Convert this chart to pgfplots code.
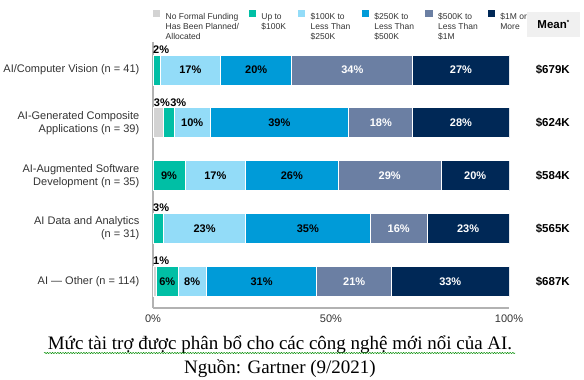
\documentclass[border=0pt]{standalone}
\usepackage{pgfplots}
\usepackage{pgfplotstable}
\pgfplotsset{compat=1.18}
\usepackage{fontspec}
\setmainfont{Liberation Sans}
\newfontfamily\capfont{Liberation Serif}
\usetikzlibrary{decorations.pathmorphing}

\definecolor{cGray}{HTML}{D3D3D3}
\definecolor{cTeal}{HTML}{00BFA5}
\definecolor{cLight}{HTML}{93DCF8}
\definecolor{cBlue}{HTML}{009BD8}
\definecolor{cSlate}{HTML}{6B7FA3}
\definecolor{cNavy}{HTML}{002856}
\definecolor{cText}{HTML}{333333}

\pgfplotsset{/pgf/number format/assume math mode=true}

\pgfplotstableread{
row gray teal light blue slate navy
0 0 2 17 20 34 27
1 3 3 10 39 18 28
2 0 9 17 26 29 20
3 0 3 23 35 16 23
4 1 6 8 31 21 33
}\bardata

% centres of the labelled segments (dark text)
\pgfplotstableread{
x y v
10.5 0 17
29 0 20
11 1 10
35.5 1 39
4.5 2 9
17.5 2 17
39 2 26
14.5 3 23
43.5 3 35
4 4 6
11 4 8
30.5 4 31
}\darklabels

% centres of the labelled segments (white text)
\pgfplotstableread{
x y v
56 0 34
86.5 0 27
64 1 18
86.5 1 28
66.5 2 29
90.5 2 20
69 3 16
88.5 3 23
56.5 4 21
83.5 4 33
}\whitelabels

% small segments, labelled above the bar
\pgfplotstableread{
x y v
2.3 -0.39 2
2.5 0.61 3
7.1 0.61 3
2.3 2.61 3
2.3 3.61 1
}\abovelabels

% mean funding
\pgfplotstableread{
x y v
112.3 0 679
112.3 1 624
112.3 2 584
112.3 3 565
112.3 4 687
}\means

\begin{document}
\begin{tikzpicture}[x=1pt,y=1pt]
\useasboundingbox (0,0) rectangle (584,380);
\pgfplotsset{
  common/.style={at={(153pt,72.3pt)}, anchor=south west, scale only axis,
    width=356pt, height=265.7pt, xmin=0, xmax=100, ymin=-0.53, ymax=4.495,
    y dir=reverse},
  sq/.style={legend image code/.code={\fill[##1,draw=none] (0pt,-0.3pt) rectangle (7.4pt,7pt);}},
  seg/.style={fill=#1, draw=white, line width=0.8pt, sq},
}
\begin{axis}[common,
  xbar stacked, bar width=30pt,
  axis x line*=bottom, axis y line*=left,
  axis line style={draw=black!30, line width=1.8pt},
  major tick length=0pt,
  ytick={0,1,2,3,4},
  yticklabels={AI/Computer Vision (n = 41),
    {AI-Generated Composite\\Applications (n = 39)},
    {AI-Augmented Software\\Development (n = 35)},
    {AI Data and Analytics\\(n = 31)},
    AI --- Other (n = 114)},
  yticklabel style={align=right, inner sep=0pt, xshift=-13.5pt, text=cText,
    font=\fontsize{11}{13}\selectfont},
  xtick={0,50,100},
  xticklabel={\pgfmathprintnumber{\tick}\%},
  xticklabel style={inner sep=0pt, yshift=-7pt, text=cText,
    font=\fontsize{11}{13}\selectfont},
  legend columns=6,
  legend cell align=left,
  legend style={draw=none, fill=none, at={(0,1)}, anchor=north west,
    yshift=32pt, inner sep=0pt, outer sep=0pt, column sep=0pt,
    nodes={inner sep=0pt, outer sep=0pt},
    font=\fontsize{8.5}{10}\selectfont, text=cText,
    /tikz/every odd column/.append style={column sep=5.3pt}},
]
\addplot[seg=cGray] table[x=gray, y=row] {\bardata};
\addlegendentry{\parbox[t]{83pt}{\raggedright No Formal Funding\\Has Been Planned/\\Allocated}}
\addplot[seg=cTeal] table[x=teal, y=row] {\bardata};
\addlegendentry{\parbox[t]{36.6pt}{\raggedright Up to\\\$100K}}
\addplot[seg=cLight] table[x=light, y=row] {\bardata};
\addlegendentry{\parbox[t]{51pt}{\raggedright \$100K to\\Less Than\\\$250K}}
\addplot[seg=cBlue] table[x=blue, y=row] {\bardata};
\addlegendentry{\parbox[t]{51pt}{\raggedright \$250K to\\Less Than\\\$500K}}
\addplot[seg=cSlate] table[x=slate, y=row] {\bardata};
\addlegendentry{\parbox[t]{49.6pt}{\raggedright \$500K to\\Less Than\\\$1M}}
\addplot[seg=cNavy] table[x=navy, y=row] {\bardata};
\addlegendentry{\parbox[t]{30pt}{\raggedright \$1M or\\More}}
\end{axis}

\begin{axis}[common, hide axis, clip=false]
\addplot[draw=none, mark=none, point meta=explicit,
  nodes near coords={\pgfmathprintnumber{\pgfplotspointmeta}\%},
  every node near coord/.append style={anchor=center, text=black,
    font=\bfseries\fontsize{11}{12}\selectfont}]
  table[x=x, y=y, meta=v] {\darklabels};
\addplot[draw=none, mark=none, point meta=explicit,
  nodes near coords={\pgfmathprintnumber{\pgfplotspointmeta}\%},
  every node near coord/.append style={anchor=center, text=white,
    font=\bfseries\fontsize{11}{12}\selectfont}]
  table[x=x, y=y, meta=v] {\whitelabels};
\addplot[draw=none, mark=none, point meta=explicit,
  nodes near coords={\pgfmathprintnumber{\pgfplotspointmeta}\%},
  every node near coord/.append style={anchor=center, text=black,
    font=\bfseries\fontsize{11}{12}\selectfont}]
  table[x=x, y=y, meta=v] {\abovelabels};
\addplot[draw=none, mark=none, point meta=explicit,
  nodes near coords={\$\pgfmathprintnumber{\pgfplotspointmeta}K},
  every node near coord/.append style={anchor=center, text=black,
    font=\bfseries\fontsize{11.5}{12}\selectfont}]
  table[x=x, y=y, meta=v] {\means};
\end{axis}

\node[fill=black!6, minimum width=53.3pt, minimum height=25.6pt, inner sep=0pt]
  at (553.3,355.5) {\fontsize{11.5}{12}\selectfont\bfseries Mean\raisebox{0.6ex}{\fontsize{6}{6}\selectfont *}};

\node[anchor=base, inner sep=0pt, font=\capfont\fontsize{19}{24}\selectfont] at (280,30)
  {Mức tài trợ được phân bổ cho các công nghệ mới nổi của AI.};
\node[anchor=base, inner sep=0pt, font=\capfont\fontsize{19}{24}\selectfont] at (280,6)
  {Nguồn: Gartner (9/2021)};
\draw[green!55!black, line width=0.5pt, decorate,
  decoration={snake, amplitude=0.6pt, segment length=2.6pt}] (44,27) -- (515,27);
\end{tikzpicture}
\end{document}
